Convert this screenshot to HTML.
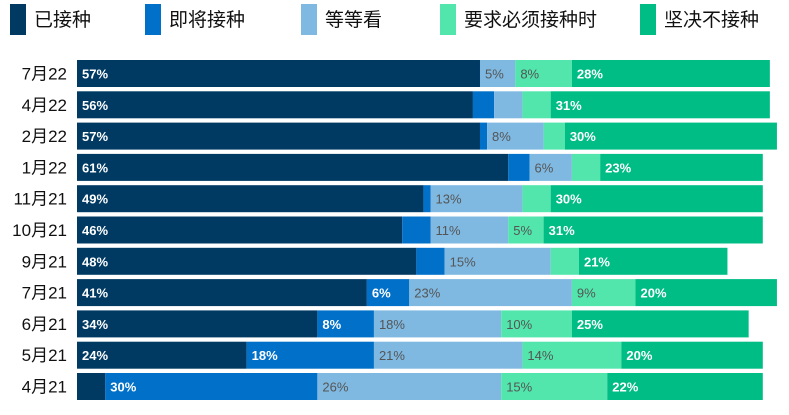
<!DOCTYPE html>
<html><head><meta charset="utf-8"><style>
body{margin:0;background:#fff;width:789px;height:410px;overflow:hidden;font-family:"Liberation Sans","Noto Sans CJK SC",sans-serif}
</style></head><body>
<svg id="chart" width="789" height="410" xmlns="http://www.w3.org/2000/svg" font-family="Liberation Sans, Noto Sans CJK SC, sans-serif">
<g id="legend"></g>
<g id="bars"></g>
<g id="ylabels"></g>
</svg>
<script>
const categories=["7月22","4月22","2月22","1月22","11月21","10月21","9月21","7月21","6月21","5月21","4月21"];
const seriesNames=["已接种","即将接种","等等看","要求必须接种时","坚决不接种"];
const vaccinated=[57,56,57,61,49,46,48,41,34,24,4];
const soon=[0,3,1,3,1,4,4,6,8,18,30];
const waitSee=[5,4,8,6,13,11,15,23,18,21,26];
const ifRequired=[8,4,3,4,4,5,4,9,10,14,15];
const never=[28,31,30,23,30,31,21,20,25,20,22];
const series=[vaccinated,soon,waitSee,ifRequired,never];
const colors=["#003a63","#0070c8","#7fb9e2","#52e6ad","#00bc85"];
const textColors=["#fff","#fff","#555","#555","#fff"];
const legendBoxX=[10,145,301,440,640];
const labelThresh=5;
const NS="http://www.w3.org/2000/svg";
const x0=77, pxPer=7.07, top0=60, pitch=31.3, bh=27;
const xs=v=>v*pxPer;
const yOf=i=>top0+i*pitch;
function mk(t,a){const e=document.createElementNS(NS,t);for(const k in a)e.setAttribute(k,a[k]);return e;}
const lg=document.getElementById('legend');
seriesNames.forEach((n,s)=>{
  const r=mk('rect',{x:legendBoxX[s],y:4,width:16,height:31,fill:colors[s]});
  
  
  lg.appendChild(r);
  const t=mk('text',{x:legendBoxX[s]+24,y:26,'font-size':19,fill:'#111'});
  
  
  t.textContent=n;lg.appendChild(t);
});
const bg=document.getElementById('bars'), yl=document.getElementById('ylabels');
categories.forEach((c,i)=>{
  const y=yOf(i);
  const t=mk('text',{x:67,y:y+bh/2+6,'font-size':17,'text-anchor':'end',fill:'#111'});
  
  
  t.textContent=c;yl.appendChild(t);
  let acc=0;
  series.forEach((arr,s)=>{
    const v=arr[i]; if(!v) return;
    const r=mk('rect',{x:x0+xs(acc),y:y,width:xs(v),height:bh,fill:colors[s]});
    
    
    bg.appendChild(r);
    if(v>=labelThresh){
      const lt=mk('text',{x:x0+xs(acc)+5,y:y+bh/2+5,'font-size':13,'font-weight':s==2||s==3?'normal':'bold',fill:textColors[s]});
      
      
      lt.textContent=v+'%';bg.appendChild(lt);
    }
    acc+=v;
  });
});
</script>
</body></html>
